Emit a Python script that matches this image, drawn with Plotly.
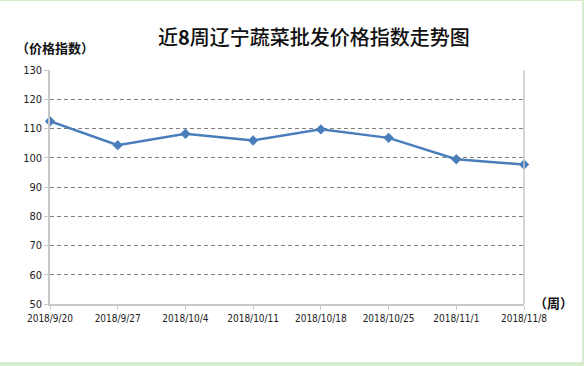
import plotly.graph_objects as go

dates = ["2018/9/20", "2018/9/27", "2018/10/4", "2018/10/11",
         "2018/10/18", "2018/10/25", "2018/11/1", "2018/11/8"]
index_values = [112.5, 104.3, 108.2, 105.9, 109.7, 106.8, 99.5, 97.7]
y_ticks = [50, 60, 70, 80, 90, 100, 110, 120, 130]

W, H = 584, 366
L, R, T, B = 50, 60, 70, 62
pw, ph = W - L - R, H - T - B

def px(x):
    return (x - L) / pw

def py(y):
    return (H - B - y) / ph

GREEN = "#d5ecd0"

fig = go.Figure()
fig.add_trace(go.Scatter(
    x=list(range(len(dates))), y=index_values, mode="lines+markers",
    line=dict(color="#4a7ebb", width=2.5),
    marker=dict(symbol="diamond", size=8, color="#4a7ebb"),
    cliponaxis=False, showlegend=False,
))

frame = dict(type="rect", xref="paper", yref="paper", fillcolor=GREEN,
             line=dict(width=0), layer="below")

fig.update_layout(
    width=W, height=H,
    margin=dict(l=L, r=R, t=T, b=B),
    paper_bgcolor="white", plot_bgcolor="white",
    font=dict(family="Noto Sans CJK SC, DejaVu Sans", color="#222"),
    shapes=[
        dict(frame, x0=px(-5), x1=px(590), y0=py(370), y1=py(362)),
        dict(frame, x0=px(582), x1=px(590), y0=py(370), y1=py(-5)),
        dict(frame, x0=px(-5), x1=px(590), y0=py(1), y1=py(-5)),
        dict(type="line", xref="paper", yref="paper",
             x0=1, x1=1, y0=0, y1=1, line=dict(color="#c8c8c8", width=1.5)),
    ],
    annotations=[
        dict(text="近<b>8</b>周辽宁蔬菜批发价格指数走势图", xref="paper", yref="paper",
             x=px(314), y=py(36), xanchor="center", yanchor="middle",
             showarrow=False, font=dict(size=20, color="#111", weight=500)),
        dict(text="<b>（价格指数）</b>", xref="paper", yref="paper",
             x=px(14), y=py(48), xanchor="left", yanchor="middle",
             showarrow=False, font=dict(size=13, color="#111")),
        dict(text="<b>（周）</b>", xref="paper", yref="paper",
             x=px(532), y=py(302), xanchor="left", yanchor="middle",
             showarrow=False, font=dict(size=13, color="#111")),
    ],
)

fig.update_xaxes(
    range=[0, len(dates) - 1], tickmode="array",
    tickvals=list(range(len(dates))), ticktext=dates,
    showgrid=False, zeroline=False,
    showline=True, linecolor="#c8c8c8", linewidth=1.5,
    ticks="outside", ticklen=4, tickcolor="#c8c8c8",
    tickfont=dict(size=10, color="#222", family="DejaVu Sans Condensed, Liberation Sans Narrow, DejaVu Sans"),
)
fig.update_yaxes(
    range=[50, 130], tickmode="array", tickvals=y_ticks,
    showgrid=True, gridcolor="#808080", griddash="4px,3px", gridwidth=1.2,
    zeroline=False,
    showline=True, linecolor="#c8c8c8", linewidth=1.5,
    ticks="outside", ticklen=4, tickcolor="#c8c8c8",
    tickfont=dict(size=11, color="#222", family="DejaVu Sans Condensed, DejaVu Sans"),
)

fig.write_html("out.html", config={"displayModeBar": False},
               post_script="document.body.style.margin='0';")
